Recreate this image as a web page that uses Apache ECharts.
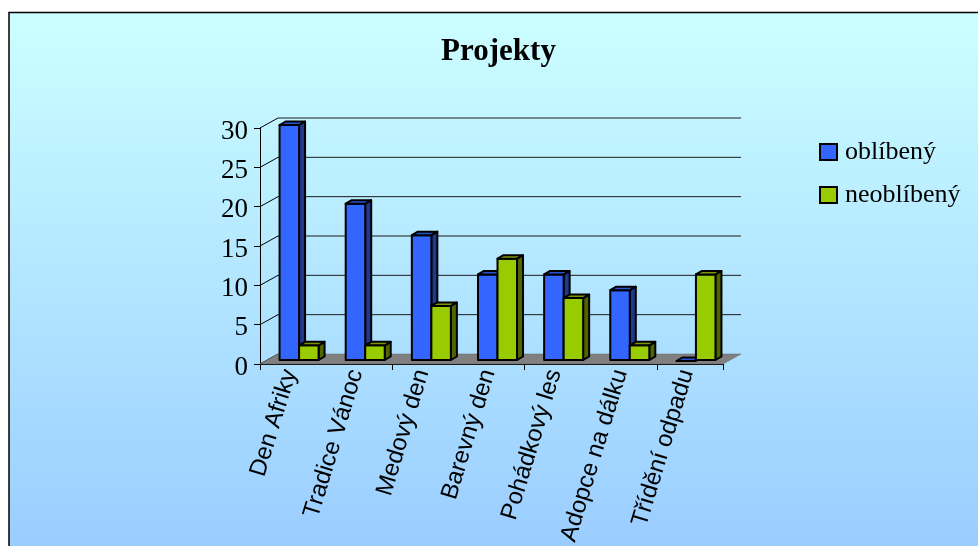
<!DOCTYPE html>
<html><head><meta charset="utf-8">
<style>html,body{margin:0;padding:0;background:#fff}#c{width:978px;height:546px}</style>
<script src="https://cdn.jsdelivr.net/npm/echarts@6/dist/echarts.min.js"></script>
</head><body><div id="c"></div>
<script>
const categories = ['Den Afriky','Tradice Vánoc','Medový den','Barevný den','Pohádkový les','Adopce na dálku','Třídění odpadu'];
const oblibeny = [30,20,16,11,11,9,0];
const neoblibeny = [2,2,7,13,8,2,11];
const yTicks = [0,5,10,15,20,25,30];
const WALL = [18,-10], OFF = [6,-3], D = [6,-3.5];
const chart = echarts.init(document.getElementById('c'), null, {renderer:'canvas'});

function barItem(pos, front, side, top) {
  return function (params, api) {
    const c = api.coord([api.value(0), api.value(1)]);
    const b = api.coord([api.value(0), 0]);
    const bw = api.size([1,0])[0];
    const w = bw * 0.295;
    const x0 = c[0] + OFF[0] + (pos === 0 ? -w : 0);
    const x1 = x0 + w;
    const yt = c[1] + OFF[1], yb = b[1] - 4;
    const ln = {stroke:'#000', lineWidth:2, lineJoin:'round'};
    const kids = [];
    if (yb - yt > 0.5) {
      kids.push({type:'polygon', shape:{points:[[x1,yt],[x1+D[0],yt+D[1]],[x1+D[0],yb+D[1]],[x1,yb]]}, style:{fill:side,...ln}});
      kids.push({type:'rect', shape:{x:x0,y:yt,width:w,height:yb-yt}, style:{fill:front,...ln}});
    }
    kids.push({type:'polygon', shape:{points:[[x0,yt],[x1,yt],[x1+D[0],yt+D[1]],[x0+D[0],yt+D[1]]]}, style:{fill:top,...ln}});
    return {type:'group', children:kids};
  };
}
function wallItem(params, api) {
  const v = api.value(0);
  const a = api.coord([0,v]);
  const size = api.size([1,0])[0] * categories.length;
  const l = a[0] - size/categories.length/2;
  const kids = [];
  if (v > 0) {
    kids.push({type:'line', shape:{x1:l+WALL[0],y1:a[1]+WALL[1],x2:l+size+WALL[0],y2:a[1]+WALL[1]}, style:{stroke:'#1c1c1c',lineWidth:1}});
  }
  kids.push({type:'line', shape:{x1:l,y1:a[1],x2:l+WALL[0],y2:a[1]+WALL[1]}, style:{stroke:'#000',lineWidth:1}});
  if (v === 0) {
    kids.push({type:'polygon', shape:{points:[[l,a[1]],[l+WALL[0],a[1]+WALL[1]],[l+size+WALL[0],a[1]+WALL[1]],[l+size,a[1]]]}, style:{fill:'#808080',stroke:'#666',lineWidth:0.5}});
  }
  kids.push({type:'text', x:l-12, y:a[1]+3.5, style:{text:String(v),align:'right',verticalAlign:'middle',fontFamily:'Liberation Serif',fontSize:27,fill:'#000'}});
  return {type:'group', children:kids};
}
function labelItem(params, api) {
  const i = api.value(0);
  const p = api.coord([i,0]);
  return {type:'group', children:[{
    type:'text', x:p[0]-3, y:p[1]+6, rotation:73*Math.PI/180,
    style:{text:categories[i],align:'right',verticalAlign:'middle',fontFamily:'Liberation Sans',fontSize:24,fill:'#000'}
  }], clipPath:{type:'rect',shape:{x:0,y:369,width:978,height:177}}};
}
chart.setOption({
  animation:false,
  graphic:[{type:'rect', z:-10, silent:true, shape:{x:9,y:12.5,width:980,height:545},
    style:{stroke:'#000',lineWidth:1.5,fill:{type:'linear',x:0,y:0,x2:0,y2:1,colorStops:[{offset:0,color:'#CCFFFF'},{offset:1,color:'#99CCFF'}]}}}],
  title:{text:'Projekty', left:493.5, top:31, textAlign:'center',
    textStyle:{fontFamily:'Liberation Serif',fontSize:31,fontWeight:'bold',color:'#000'}},
  grid:{left:260,right:255,top:128,bottom:182},
  legend:{orient:'vertical',left:814,top:134,itemWidth:17,itemHeight:16,itemGap:17,icon:'rect',selectedMode:false,
    textStyle:{fontFamily:'Liberation Serif',fontSize:26,color:'#000',padding:[0,0,0,3]},
    data:['oblíbený','neoblíbený']},
  xAxis:{type:'category',data:categories,
    axisLine:{show:true,lineStyle:{color:'#000',width:1}},
    axisTick:{show:true,length:6,lineStyle:{color:'#000'},alignWithLabel:false},
    axisLabel:{show:false}},
  yAxis:{type:'value',min:0,max:30,interval:5,
    axisLine:{show:true,lineStyle:{color:'#000',width:1}},
    axisTick:{show:true,length:6,lineStyle:{color:'#000'}},
    splitLine:{show:false},
    axisLabel:{show:false}},
  series:[
    {type:'custom',name:'wall',z:1,silent:true,renderItem:wallItem,data:yTicks.map(v=>[v]),encode:{y:0},clip:false},
    {type:'custom',name:'oblíbený',z:2,renderItem:barItem(0,'#3366FF','#1F3A8C','#2A52CC'),clip:false,
     itemStyle:{color:'#3366FF',borderColor:'#000',borderWidth:2},
     encode:{x:0,y:1},data:oblibeny.map((v,i)=>[i,v])},
    {type:'custom',name:'neoblíbený',z:3,renderItem:barItem(1,'#99CC00','#4F6600','#7A9900'),clip:false,
     itemStyle:{color:'#99CC00',borderColor:'#000',borderWidth:2},
     encode:{x:0,y:1},data:neoblibeny.map((v,i)=>[i,v])},
    {type:'custom',name:'labels',z:4,silent:true,renderItem:labelItem,clip:false,encode:{x:0},data:categories.map((c,i)=>[i])}
  ]
});
</script></body></html>
